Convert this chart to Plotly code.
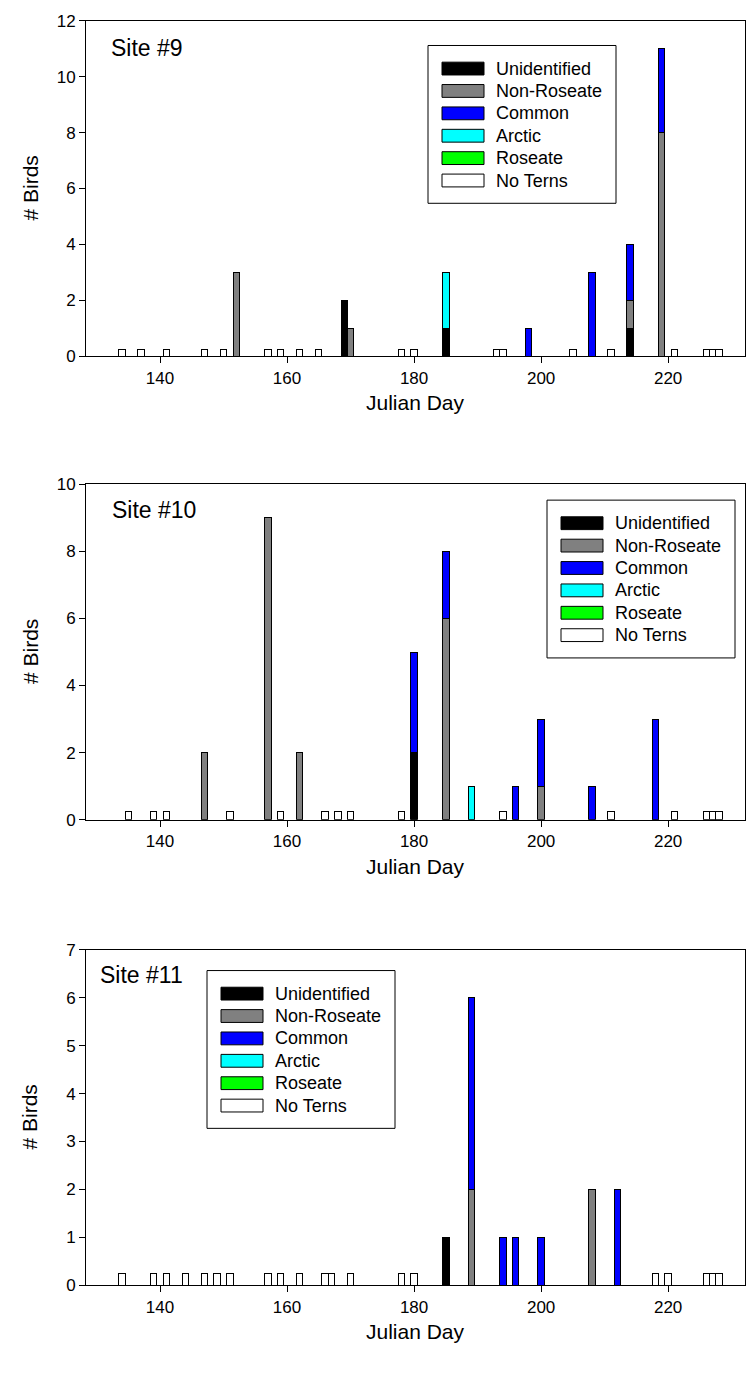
import plotly.graph_objects as go

# ---- survey data: tern counts per Julian day, three sites ----
CATEGORIES = ["Unidentified", "Non-Roseate", "Common", "Arctic", "Roseate"]
CATEGORY_COLORS = ["#000000", "#808080", "#0000FF", "#00FFFF", "#00FF00"]
NO_TERN_LABEL = "No Terns"
NO_TERN_MARKER = 0.25  # height of the marker drawn for surveys with no terns

SITE9_DAYS = [152, 169, 170, 185, 198, 208, 214, 219]
SITE9_UNIDENTIFIED = [0, 2, 0, 1, 0, 0, 1, 0]
SITE9_NON_ROSEATE = [3, 0, 1, 0, 0, 0, 1, 8]
SITE9_COMMON = [0, 0, 0, 0, 1, 3, 2, 3]
SITE9_ARCTIC = [0, 0, 0, 2, 0, 0, 0, 0]
SITE9_ROSEATE = [0, 0, 0, 0, 0, 0, 0, 0]
SITE9_NO_TERN_DAYS = [134, 137, 141, 147, 150, 157, 159, 162, 165, 178, 180,
                      193, 194, 205, 211, 221, 226, 227, 228]

SITE10_DAYS = [147, 157, 162, 180, 185, 189, 196, 200, 208, 218]
SITE10_UNIDENTIFIED = [0, 0, 0, 2, 0, 0, 0, 0, 0, 0]
SITE10_NON_ROSEATE = [2, 9, 2, 0, 6, 0, 0, 1, 0, 0]
SITE10_COMMON = [0, 0, 0, 3, 2, 0, 1, 2, 1, 3]
SITE10_ARCTIC = [0, 0, 0, 0, 0, 1, 0, 0, 0, 0]
SITE10_ROSEATE = [0, 0, 0, 0, 0, 0, 0, 0, 0, 0]
SITE10_NO_TERN_DAYS = [135, 139, 141, 151, 159, 166, 168, 170, 178, 194,
                       211, 221, 226, 227, 228]

SITE11_DAYS = [185, 189, 194, 196, 200, 208, 212]
SITE11_UNIDENTIFIED = [1, 0, 0, 0, 0, 0, 0]
SITE11_NON_ROSEATE = [0, 2, 0, 0, 0, 2, 0]
SITE11_COMMON = [0, 4, 1, 1, 1, 0, 2]
SITE11_ARCTIC = [0, 0, 0, 0, 0, 0, 0]
SITE11_ROSEATE = [0, 0, 0, 0, 0, 0, 0]
SITE11_NO_TERN_DAYS = [134, 139, 141, 144, 147, 149, 151, 157, 159, 162, 166,
                       167, 170, 178, 180, 218, 220, 226, 227, 228]

SITE_NAMES = ["Site #9", "Site #10", "Site #11"]
Y_MAX = [12, 10, 7]
Y_DTICK = [2, 2, 1]
X_TICKS = [140, 160, 180, 200, 220]
X_RANGE = [128.35, 232.1]

sites = [
    (SITE9_DAYS, [SITE9_UNIDENTIFIED, SITE9_NON_ROSEATE, SITE9_COMMON, SITE9_ARCTIC, SITE9_ROSEATE], SITE9_NO_TERN_DAYS),
    (SITE10_DAYS, [SITE10_UNIDENTIFIED, SITE10_NON_ROSEATE, SITE10_COMMON, SITE10_ARCTIC, SITE10_ROSEATE], SITE10_NO_TERN_DAYS),
    (SITE11_DAYS, [SITE11_UNIDENTIFIED, SITE11_NON_ROSEATE, SITE11_COMMON, SITE11_ARCTIC, SITE11_ROSEATE], SITE11_NO_TERN_DAYS),
]

# ---- page geometry (pixels) ----
W, H = 746, 1378
PLOT_L, PLOT_R = 86, 745
PANEL_TB = [(12, 352), (482, 822), (954, 1294)]
LEGEND_BOX = [(428, 37), (547, 498), (207, 975)]   # left, top
SITE_LABEL_POS = [(109, 40), (110, 508), (98, 980)]
FONT = "Arial, Liberation Sans, sans-serif"


def px_x(px):
    return px / W


def px_y(py):
    return 1 - py / H


fig = go.Figure()
layout = dict(
    width=W, height=H, margin=dict(l=0, r=0, t=0, b=0),
    paper_bgcolor="white", plot_bgcolor="white",
    barmode="stack", showlegend=False,
    font=dict(family=FONT, color="black"),
)
shapes, annotations = [], []

for i, (days, series, no_tern_days) in enumerate(sites):
    sfx = "" if i == 0 else str(i + 1)
    xa, ya = "x" + sfx, "y" + sfx
    top, bottom = PANEL_TB[i]

    for name, color, vals in zip(CATEGORIES, CATEGORY_COLORS, series):
        xs = [d for d, v in zip(days, vals) if v]
        ys = [v for v in vals if v]
        if xs:
            fig.add_trace(go.Bar(
                x=xs, y=ys, name=name, width=1,
                marker=dict(color=color, line=dict(color="black", width=1)),
                xaxis=xa, yaxis=ya,
            ))
    fig.add_trace(go.Bar(
        x=no_tern_days, y=[NO_TERN_MARKER] * len(no_tern_days), name=NO_TERN_LABEL,
        width=1, marker=dict(color="white", line=dict(color="black", width=1)),
        xaxis=xa, yaxis=ya,
    ))

    layout["xaxis" + sfx] = dict(
        domain=[px_x(PLOT_L), px_x(PLOT_R)], anchor=ya, range=X_RANGE,
        tickvals=X_TICKS, ticks="outside", ticklen=6, tickcolor="black",
        showline=True, linecolor="black", linewidth=1, mirror=True,
        showgrid=False, zeroline=False, tickfont=dict(size=17, family=FONT),
    )
    layout["yaxis" + sfx] = dict(
        domain=[px_y(bottom), px_y(top)], anchor=xa, range=[0, Y_MAX[i]],
        dtick=Y_DTICK[i], ticks="outside", ticklen=6, tickcolor="black",
        showline=True, linecolor="black", linewidth=1, mirror=True,
        showgrid=False, zeroline=False, tickfont=dict(size=17, family=FONT),
    )

    # axis titles
    annotations.append(dict(
        text="Julian Day", xref="paper", yref="paper",
        x=px_x((PLOT_L + PLOT_R) / 2), y=px_y(bottom + 47),
        showarrow=False, font=dict(size=21, family=FONT),
        xanchor="center", yanchor="middle",
    ))
    annotations.append(dict(
        text="# Birds", xref="paper", yref="paper",
        x=px_x(30), y=px_y((top + bottom) / 2), textangle=-90,
        showarrow=False, font=dict(size=21, family=FONT),
        xanchor="center", yanchor="middle",
    ))
    # site label
    sx, sy = SITE_LABEL_POS[i]
    annotations.append(dict(
        text=SITE_NAMES[i], xref="paper", yref="paper",
        x=px_x(sx), y=px_y(sy), showarrow=False,
        font=dict(size=23, family=FONT), xanchor="left", yanchor="middle",
    ))

    # legend box
    bl, bt = LEGEND_BOX[i]
    row_h = 22.7
    shapes.append(dict(
        type="rect", xref="paper", yref="paper",
        x0=px_x(bl), x1=px_x(bl + 188), y0=px_y(bt), y1=px_y(bt + 160),
        line=dict(color="black", width=1), fillcolor="white", layer="above",
    ))
    entries = list(zip(CATEGORIES, CATEGORY_COLORS)) + [(NO_TERN_LABEL, "white")]
    for k, (name, color) in enumerate(entries):
        cy = bt + 23.4 + k * row_h
        shapes.append(dict(
            type="rect", xref="paper", yref="paper",
            x0=px_x(bl + 14), x1=px_x(bl + 56),
            y0=px_y(cy - 6.5), y1=px_y(cy + 6.5),
            line=dict(color="black", width=1), fillcolor=color, layer="above",
        ))
        annotations.append(dict(
            text=name, xref="paper", yref="paper",
            x=px_x(bl + 66), y=px_y(cy), showarrow=False,
            font=dict(size=18, family=FONT), xanchor="left", yanchor="middle",
        ))

layout["shapes"] = shapes
layout["annotations"] = annotations
fig.update_layout(**layout)
fig.write_html("out.html")
